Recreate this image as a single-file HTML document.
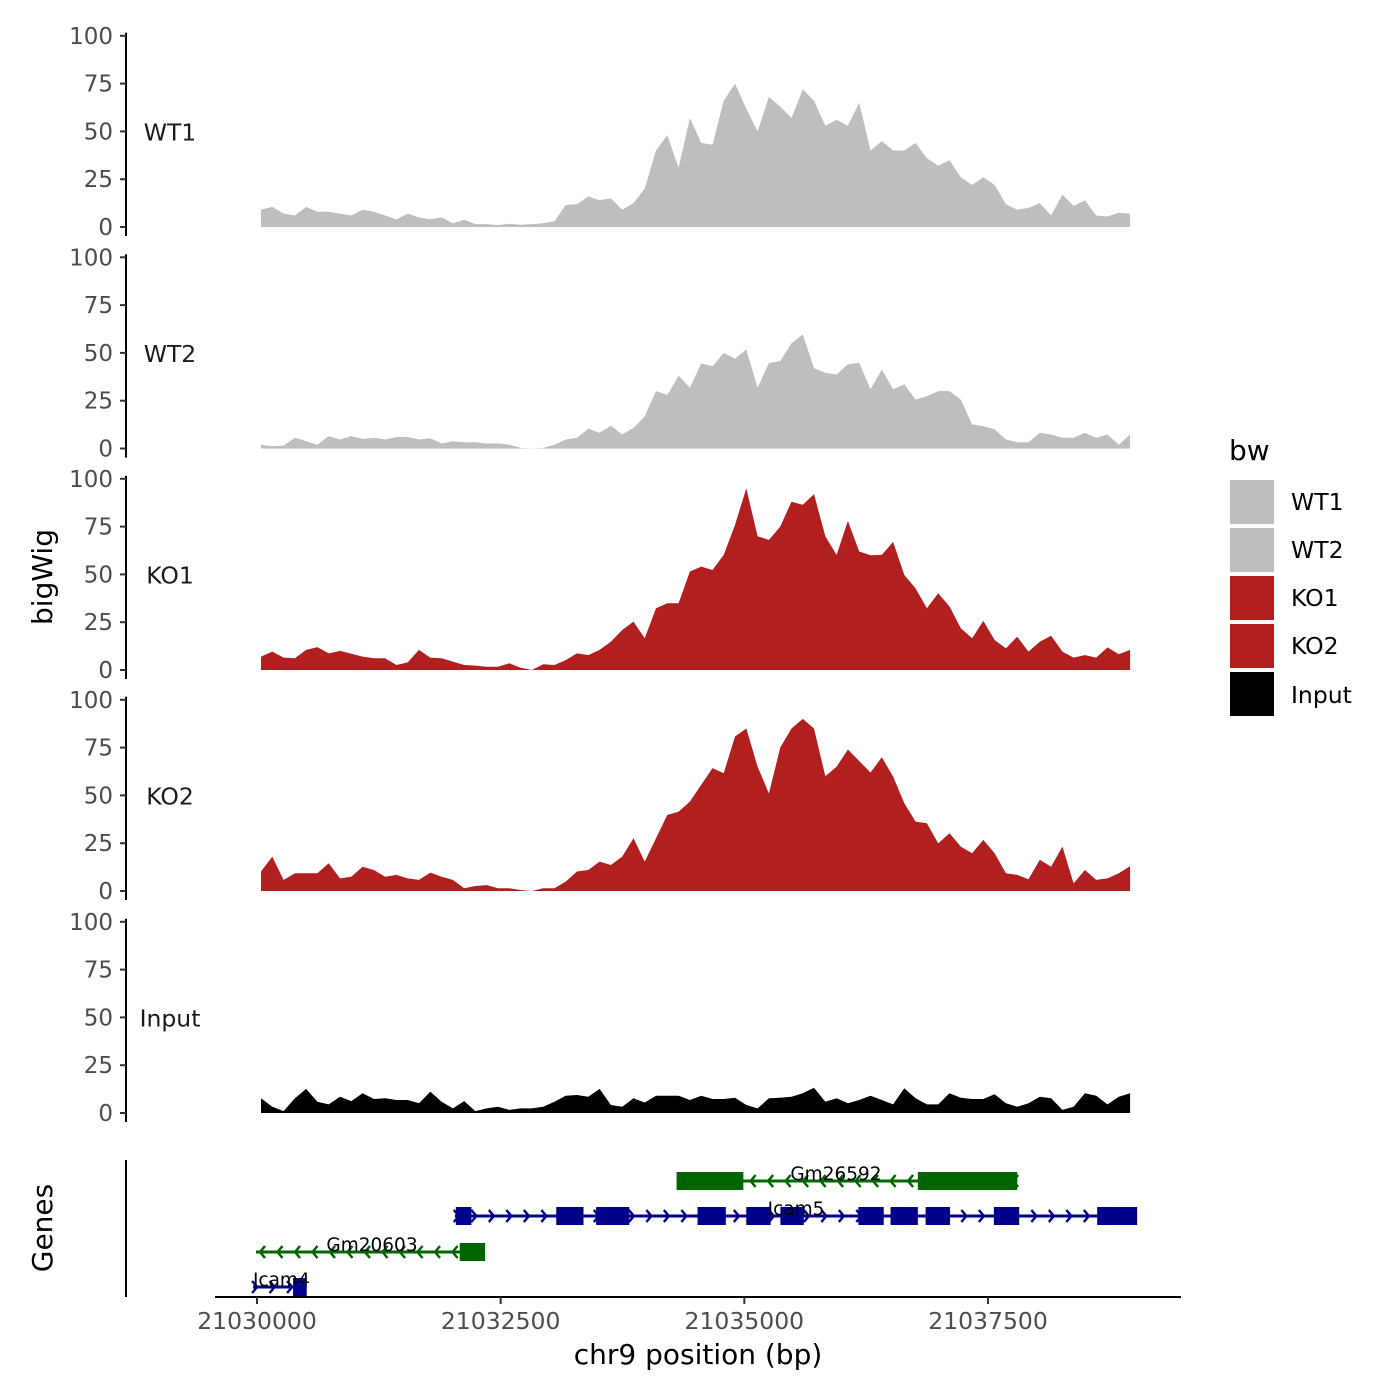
<!DOCTYPE html>
<html><head><meta charset="utf-8"><style>
html,body{margin:0;padding:0;background:#fff;}
svg{display:block;font-family:"DejaVu Sans","Liberation Sans",sans-serif;}
</style></head><body>
<svg id="chart" width="1400" height="1400" viewBox="0 0 1400 1400" xmlns="http://www.w3.org/2000/svg">
<g id="tracks"></g>
<g id="genes"></g>
<g id="xaxis"></g>
<text x="52" y="577" font-size="28" text-anchor="middle" transform="rotate(-90 52 577)" fill="#000">bigWig</text>
<text x="52" y="1228" font-size="28" text-anchor="middle" transform="rotate(-90 52 1228)" fill="#000">Genes</text>
<text x="698" y="1364" font-size="28" text-anchor="middle" fill="#000">chr9 position (bp)</text>
<g>
<text x="1229" y="460" font-size="28">bw</text>
<rect x="1230" y="480" width="44" height="44" fill="#bebebe"/>
<text x="1291" y="510" font-size="23.5">WT1</text>
<rect x="1230" y="528" width="44" height="44" fill="#bebebe"/>
<text x="1291" y="558" font-size="23.5">WT2</text>
<rect x="1230" y="576" width="44" height="44" fill="#b21f1f"/>
<text x="1291" y="606" font-size="23.5">KO1</text>
<rect x="1230" y="624" width="44" height="44" fill="#b21f1f"/>
<text x="1291" y="654" font-size="23.5">KO2</text>
<rect x="1230" y="672" width="44" height="44" fill="#000"/>
<text x="1291" y="703" font-size="23.5">Input</text>
</g>
</svg>
<script>
const sampleNames = ["WT1","WT2","KO1","KO2","Input"];
const sampleColors = ["#bebebe","#bebebe","#b21f1f","#b21f1f","#000000"];
const startBp = 21030041;
const stepBp = 115.8;
const wt1 = [9,10.6,7,6,10.5,8,8,7,6,9,8,6,4,7,5,4,5,2,3.8,1.5,1.5,1,1.7,1.2,1.5,2,3,11.5,12,16,14,15,9,12.5,20,40,48,31,57,44,43,66,75,62,50,68,63,57,72,66,53,56,53,65,40,45,40,40,44,36,32,35,26,22,26,22,12,9,10,12.5,6,17,11,14,6,5.5,7.5,7];
const wt2 = [2,1.2,1.5,5.6,3.8,2,6.5,4.7,6.5,5,5.6,4.7,6,6,4.7,5.4,2.6,3.8,3.3,3.3,2.6,2.6,2,0.3,0,0.3,2,4.7,5.6,10.3,8.2,12,7.3,10.8,16.9,30,28,38,31.8,44.5,43,50,47,51.8,31.8,44.7,45.7,55,59.7,42,39.6,38.7,44,44.8,31,41.3,31,33.5,25.6,27.4,30,30,25.6,12.6,11.7,10,4.7,3.3,3.3,8.2,7.3,5.6,5.6,8.2,5.6,7.3,2,7.3];
const ko1 = [7,9.6,6.5,6.1,10.5,12,8.7,10,8.5,7,6.1,6.1,2.6,4,10.5,6.5,6.1,4.4,2.6,2.3,1.7,1.7,3.5,1.2,0,3,2.6,5.2,8.7,7.8,10.5,14.8,20.9,25.3,16.6,32.3,34.9,34.9,51.5,54.1,52.3,60.2,75.9,95,70,68,75,88,86.4,92,70,60.2,78,62,60,60.2,67,49.7,42.7,32.3,40.1,33.2,21.8,16.6,25.7,15.7,11.3,17.4,9.6,14.8,17.9,9.6,6.5,7.8,6.5,11.8,8.2,10.5];
const ko2 = [10.2,18,5.8,9.3,9.3,9.3,14.5,6.6,7.5,12.7,11,7.5,8.4,6.6,5.8,9.6,7.5,5.8,1.4,2.6,3.1,1.4,1.4,0.5,0,1.4,1.4,4.9,10.2,11,15.4,13.6,18,27.6,15.4,27.6,39.8,41.5,46.8,55.5,64.3,61.6,80.8,85,65,51,75,85,90,85,60,65,74,68,62,70,59.9,45.9,36.3,35.4,24.9,30.2,23.2,19.7,26.7,19.7,9.3,8.4,6.1,16.3,12.7,23.2,4,11,5.8,6.6,9.3,13];
const inputSig = [7.7,3.3,1,7.7,12.6,5.9,4.5,8.5,6.2,10.3,7.3,7.7,6.8,6.8,5.1,11.2,5.9,2.4,6.2,1,2.4,3.3,1.6,2.4,2.4,3.3,5.9,9,9.4,8.5,12.6,4.2,3.3,7.7,5.5,9,9,9,6.8,9,7.3,7.3,8,4.2,2.4,7.7,8,8.5,10.3,13.2,5.9,7.7,5.1,6.8,9,6.8,4.5,12.9,7.7,4.5,4.5,10.3,8,7.3,7.3,9.8,5.1,3.3,5.1,8.5,7.7,1.6,3.3,10.3,9,4.5,8.5,10.3];
const yTicks = [0,25,50,75,100];
const xTicks = [21030000,21032500,21035000,21037500];
const xTickLabels = ["21030000","21032500","21035000","21037500"];

const series = [wt1, wt2, ko1, ko2, inputSig];
const NS = "http://www.w3.org/2000/svg";
function xScale(bp){ return 257 + (bp - 21030000) * 0.097467; }
const panelBase = [227, 448.5, 670, 891, 1113];
function yScale(p, v){ return panelBase[p] - v * 1.912; }
function mk(tag, attrs, parent){ const e = document.createElementNS(NS, tag); for (const k in attrs) e.setAttribute(k, attrs[k]); parent.appendChild(e); return e; }

const tracks = document.getElementById("tracks");
for (let p = 0; p < 5; p++) {
  const g = mk("g", {}, tracks);
  
  
  const vals = series[p];
  let d = "M" + xScale(startBp).toFixed(1) + "," + yScale(p, 0);
  for (let i = 0; i < vals.length; i++) {
    d += " L" + xScale(startBp + i * stepBp).toFixed(1) + "," + yScale(p, vals[i]).toFixed(1);
  }
  d += " L" + xScale(startBp + (vals.length - 1) * stepBp).toFixed(1) + "," + yScale(p, 0) + " Z";
  const area = mk("path", {d: d, fill: sampleColors[p]}, g);
  
  
  const ax = mk("line", {x1: 126, x2: 126, y1: yScale(p, 100) - 3, y2: yScale(p, 0) + 9, stroke: "#000", "stroke-width": 2}, g);
  
  
  for (const t of yTicks) {
    const y = yScale(p, t);
    const tk = mk("line", {x1: 120, x2: 126, y1: y, y2: y, stroke: "#333", "stroke-width": 2}, g);
    
    
    const tl = mk("text", {x: 113, y: y + 8, "font-size": 23, "text-anchor": "end", fill: "#4d4d4d"}, g);
    
    
    tl.textContent = t;
  }
  const lab = mk("text", {x: 170, y: yScale(p, 50) + 9, "font-size": 23.5, "text-anchor": "middle", fill: "#1a1a1a"}, g);
  
  
  lab.textContent = sampleNames[p];
}

/* genes */
const geneNames = ["Gm26592","Icam5","Gm20603","Icam4"];
const geneStrand = [-1, 1, -1, 1];
const geneStart = [21034305, 21032030, 21029990, 21029960];
const geneEnd = [21037800, 21038990, 21032300, 21030510];
const geneRowY = [1181, 1216, 1252, 1287];
const geneExons = [
  [[21034305,21034990],[21036780,21037800]],
  [[21032040,21032200],[21033070,21033350],[21033480,21033820],[21034520,21034810],[21035020,21035270],[21035370,21035610],[21036170,21036430],[21036500,21036780],[21036860,21037110],[21037560,21037820],[21038620,21039030]],
  [[21032080,21032340]],
  [[21030370,21030510]]
];
const geneLabelBp = [21035940, 21035530, 21031180, 21030250];
const gg = document.getElementById("genes");
const gax = mk("line", {x1: 126, x2: 126, y1: 1160, y2: 1297, stroke: "#000", "stroke-width": 2}, gg);


for (let k = 0; k < geneNames.length; k++) {
  const col = geneStrand[k] > 0 ? "#00008b" : "#006400";
  const g = mk("g", {}, gg);
  
  
  const y = geneRowY[k];
  const x1 = xScale(geneStart[k]), x2 = xScale(geneEnd[k]);
  mk("line", {x1: x1, x2: x2, y1: y, y2: y, stroke: col, "stroke-width": 3}, g);
  for (let x = x1 + 4; x < x2 - 2; x += 17.5) {
    const s = geneStrand[k] * 5;
    mk("polyline", {points: (x - s) + "," + (y - 6) + " " + x + "," + y + " " + (x - s) + "," + (y + 6), fill: "none", stroke: col, "stroke-width": 2.5}, g);
  }
  for (const ex of geneExons[k]) {
    const ea = xScale(ex[0]), eb = xScale(ex[1]);
    const r = mk("rect", {x: ea, y: y - 9, width: eb - ea, height: 18, fill: col}, g);
    
    
  }
  const t = mk("text", {x: xScale(geneLabelBp[k]), y: y - 1, "font-size": 18.5, "text-anchor": "middle", fill: "#000"}, g);
  
  
  t.textContent = geneNames[k];
}

/* x axis */
const xa = document.getElementById("xaxis");
const xl = mk("line", {x1: 215, x2: 1181, y1: 1297, y2: 1297, stroke: "#000", "stroke-width": 2}, xa);


for (let i = 0; i < xTicks.length; i++) {
  const x = xScale(xTicks[i]);
  const tk = mk("line", {x1: x, x2: x, y1: 1297, y2: 1304, stroke: "#333", "stroke-width": 2}, xa);
  
  
  const tl = mk("text", {x: x, y: 1329, "font-size": 23.5, "text-anchor": "middle", fill: "#4d4d4d"}, xa);
  
  
  tl.textContent = xTickLabels[i];
}
</script>
</body></html>
